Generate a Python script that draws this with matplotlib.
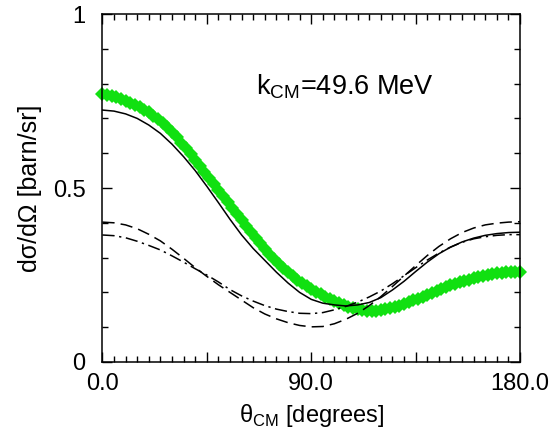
import matplotlib
matplotlib.use("Agg")
import matplotlib.pyplot as plt
import numpy as np

plt.rcParams['font.family'] = ['Liberation Sans', 'DejaVu Sans']
plt.rcParams['mathtext.fontset'] = 'custom'
plt.rcParams['mathtext.rm'] = 'Liberation Sans'

# angles of the calculated curves (every 5 degrees)
theta_line = list(range(0, 181, 5))

# solid curve
solid = [0.724, 0.721, 0.713, 0.700, 0.681, 0.657, 0.626, 0.590, 0.550,
         0.505, 0.458, 0.410, 0.365, 0.326, 0.292, 0.258, 0.227, 0.200,
         0.180, 0.169, 0.164, 0.161, 0.164, 0.171, 0.185, 0.207, 0.232,
         0.260, 0.287, 0.311, 0.330, 0.345, 0.356, 0.364, 0.369, 0.372,
         0.373]

# dashed curve
dashed = [0.402, 0.400, 0.394, 0.383, 0.367, 0.348, 0.324, 0.298, 0.271,
          0.246, 0.222, 0.200, 0.178, 0.156, 0.138, 0.124, 0.113, 0.105,
          0.101, 0.102, 0.110, 0.123, 0.140, 0.162, 0.188, 0.217, 0.247,
          0.277, 0.306, 0.332, 0.354, 0.372, 0.385, 0.394, 0.399, 0.402,
          0.403]

# dash-dot curve
dashdot = [0.365, 0.363, 0.357, 0.347, 0.335, 0.322, 0.305, 0.287, 0.268,
           0.250, 0.230, 0.208, 0.190, 0.175, 0.162, 0.152, 0.145, 0.140,
           0.139, 0.142, 0.150, 0.160, 0.172, 0.187, 0.204, 0.225, 0.248,
           0.271, 0.293, 0.313, 0.330, 0.344, 0.354, 0.360, 0.364, 0.366,
           0.366]

# green diamonds (every 2 degrees)
theta_pts = list(range(0, 181, 2))
green = [0.769, 0.768, 0.765, 0.761, 0.757, 0.751, 0.745, 0.739, 0.732, 0.725,
         0.717, 0.707, 0.697, 0.686, 0.674, 0.661, 0.646, 0.630, 0.614, 0.597,
         0.580, 0.563, 0.546, 0.528, 0.511, 0.494, 0.477, 0.460, 0.442, 0.425,
         0.408, 0.391, 0.374, 0.357, 0.341, 0.326, 0.311, 0.297, 0.283, 0.270,
         0.258, 0.247, 0.236, 0.226, 0.217, 0.209, 0.201, 0.194, 0.188, 0.182,
         0.176, 0.170, 0.164, 0.159, 0.155, 0.151, 0.148, 0.146, 0.146, 0.147,
         0.148, 0.151, 0.154, 0.158, 0.162, 0.166, 0.171, 0.177, 0.182, 0.188,
         0.193, 0.198, 0.204, 0.209, 0.215, 0.220, 0.224, 0.229, 0.233, 0.237,
         0.240, 0.244, 0.248, 0.250, 0.253, 0.255, 0.256, 0.258, 0.258, 0.259,
         0.259]

fig = plt.figure(figsize=(5.54, 4.34), dpi=100)
ax = fig.add_axes([0.1848, 0.1659, 0.754, 0.8018])

ax.plot(theta_pts, green, linestyle='none', marker='D', markersize=6.8,
        color='#11e011', markeredgewidth=0, clip_on=False, zorder=2)
ax.plot(theta_line, solid, color='black', lw=1.1, zorder=3)
ax.plot(theta_line, dashed, color='black', lw=1.1, dashes=(8, 4), zorder=3)
ax.plot(theta_line, dashdot, color='black', lw=1.1, dashes=(8, 3, 1.5, 3), zorder=3)

ax.set_xlim(0, 180)
ax.set_ylim(0, 1)

ax.set_xticks([0, 45, 90, 135, 180])
ax.set_xticklabels(['0.0', '', '90.0', '', '180.0'])
ax.set_xticks(np.arange(0, 181, 5), minor=True)
ax.set_yticks([0, 0.5, 1])
ax.set_yticklabels(['0', '0.5', '1'])
ax.set_yticks(np.arange(0, 1.01, 0.1), minor=True)

ax.tick_params(which='both', direction='in', top=True, right=True,
               labelsize=17, width=1)
ax.tick_params(which='major', length=7, pad=8)
ax.tick_params(which='minor', length=4)
ax.tick_params(axis='y', which='major', pad=12)
for s in ax.spines.values():
    s.set_linewidth(1.1)

ax.set_xlabel(r'θ$_{\rm CM}$ [degrees]', fontsize=17, labelpad=5)
ax.set_ylabel(r'dσ/dΩ [barn/sr]', fontsize=18, labelpad=8)

ax.text(66.2, 0.770, r'k$_{\rm CM}$=49.6 MeV', fontsize=19.5, ha='left',
        va='baseline')

fig.savefig('out.png', dpi=100)
